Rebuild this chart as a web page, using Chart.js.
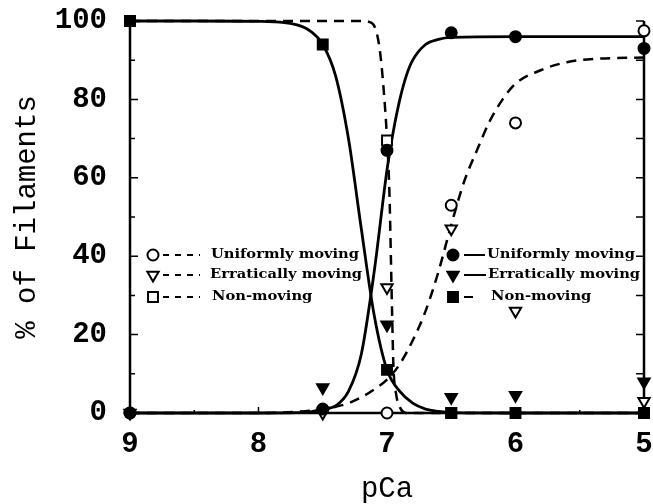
<!DOCTYPE html>
<html>
<head>
<meta charset="utf-8">
<script src="https://cdn.jsdelivr.net/npm/chart.js@4.4.1/dist/chart.umd.min.js"></script>
<style>
  html, body { margin: 0; padding: 0; background: #fff; }
</style>
</head>
<body>
<canvas id="pca-chart" width="653" height="504"></canvas>
<script>
// measured points, pCa from 9 down to 5
const pCa = [9, 7.5, 7.0, 6.5, 6.0, 5.0];
const uniformOpen   = [0, null, 0, 53, 74, 97.5];
const erraticOpen   = [0, 0, 32, 47, 26, 3];
const nonOpen       = [100, null, 69.5, 0, null, 0];
const uniformFilled = [0, 1, 67, 97, 96, 93];
const erraticFilled = [null, 6.5, 22.5, 4, 4.5, 8];
const nonFilled     = [100, 94, 11, 0, 0, 0];

// fitted curves (solid = filled symbols, dashed = open symbols)
const nonFitX  = [9, 8.5, 8, 7.8, 7.7, 7.6, 7.5, 7.4, 7.3, 7.2, 7.1, 7.0, 6.9, 6.8, 6.7, 6.6, 6.5, 6, 5.5, 5];
const nonFitY  = [100, 100, 99.9, 99.6, 99, 97.5, 94, 86, 70, 47, 25, 11, 5.5, 2.5, 1, 0.4, 0.1, 0, 0, 0];
const uniFitX  = [9, 8.5, 8, 7.7, 7.6, 7.5, 7.4, 7.3, 7.2, 7.1, 7.0, 6.95, 6.9, 6.85, 6.8, 6.7, 6.6, 6.5, 6, 5.5, 5];
const uniFitY  = [0, 0, 0, 0.1, 0.3, 1, 1.8, 5.5, 15, 36, 62, 72, 80, 86, 90, 94, 95.3, 95.8, 96, 96, 96];
const nonDashX = [9, 8, 7.5, 7.2, 7.12, 7.08, 7.05, 7.02, 7.0, 6.98, 6.97, 6.96, 6.95, 6.93, 6.9, 6.85, 6.5, 6, 5];
const nonDashY = [100, 100, 100, 100, 99.5, 97, 91, 80, 70, 55, 40, 25, 12, 5, 1.5, 0, 0, 0, 0];
const uniDashX = [9, 8.5, 8, 7.7, 7.5, 7.4, 7.3, 7.2, 7.1, 7.0, 6.9, 6.8, 6.7, 6.6, 6.5, 6.4, 6.3, 6.2, 6.1, 6.0, 5.8, 5.6, 5.4, 5.0];
const uniDashY = [0, 0, 0, 0.3, 1, 1.6, 2.5, 4, 6, 8.5, 12.5, 18.5, 26, 36, 48, 59, 67, 74.5, 80, 84, 87.5, 89.5, 90.3, 90.7];

const legendLabels = ['Uniformly moving', 'Erratically moving', 'Non-moving'];

const xy = (xs, ys) => xs.map((x, i) => ({ x: x, y: ys[i] })).filter(p => p.y !== null);

const monoFont = { family: '"Liberation Mono", monospace', size: 29 };

function curve(xs, ys, dashed) {
  return {
    data: xy(xs, ys),
    showLine: true,
    borderColor: '#000',
    borderWidth: dashed ? 2.5 : 2.8,
    borderDash: dashed ? [10, 7] : [],
    pointRadius: 0,
    cubicInterpolationMode: 'monotone',
    clip: false,
    order: 2
  };
}

// filled symbols sit on top of open ones (lower order is drawn last)
function marks(ys, style, filled) {
  return {
    data: xy(pCa, ys),
    showLine: false,
    pointStyle: style,
    pointRadius: style === 'circle' ? 5.5 : (style === 'rect' ? 7 : 6.5),
    pointRotation: style === 'triangle' ? 180 : 0,
    pointBackgroundColor: filled ? '#000' : '#fff',
    pointBorderColor: '#000',
    pointBorderWidth: 2,
    clip: false,
    order: filled ? 0 : 1
  };
}

// axis frame with inward ticks on left, bottom and right
const frame = {
  id: 'frame',
  beforeDatasetsDraw(chart) {
    const { ctx, chartArea: a, scales: { x, y } } = chart;
    ctx.save();
    ctx.strokeStyle = '#000';
    ctx.lineWidth = 2.5;
    ctx.beginPath();
    ctx.moveTo(a.left, a.top);
    ctx.lineTo(a.left, a.bottom);
    ctx.lineTo(a.right, a.bottom);
    ctx.lineTo(a.right, a.top);
    ctx.stroke();
    ctx.lineWidth = 1.5;
    ctx.beginPath();
    for (let v = 0; v <= 100; v += 10) {
      const py = y.getPixelForValue(v);
      ctx.moveTo(a.left, py); ctx.lineTo(a.left + (v % 20 ? 5 : 8), py);
      ctx.moveTo(a.right, py); ctx.lineTo(a.right - 8, py);
    }
    for (let v = 5; v <= 9; v += 0.5) {
      const px = x.getPixelForValue(v);
      ctx.moveTo(px, a.bottom); ctx.lineTo(px, a.bottom - (v % 1 ? 3 : 6));
    }
    ctx.stroke();
    ctx.restore();
  }
};

// two in-plot keys: open symbols with dashed lines, filled symbols with solid lines
const keys = {
  id: 'keys',
  afterDatasetsDraw(chart) {
    const ctx = chart.ctx;
    const styles = [['circle', 5.5, 0], ['triangle', 6.5, 180], ['rect', 7, 0]];
    const rows = [255, 275, 297];
    ctx.save();
    ctx.font = 'bold 12px "DejaVu Serif"';
    const sx = 148 / ctx.measureText(legendLabels[0]).width;
    ctx.textBaseline = 'middle';
    ctx.fillStyle = '#000';
    ctx.strokeStyle = '#000';
    const drawKey = (mx, lineFrom, lineTo, textX, filled) => {
      rows.forEach((ry, i) => {
        ctx.lineWidth = 2;
        ctx.fillStyle = filled ? '#000' : '#fff';
        Chart.helpers.drawPoint(ctx, {
          pointStyle: styles[i][0], radius: styles[i][1], rotation: styles[i][2], borderWidth: 2
        }, mx, ry);
        ctx.setLineDash(filled ? [] : [6, 6]);
        ctx.beginPath();
        ctx.moveTo(lineFrom, ry);
        ctx.lineTo(lineTo[i], ry);
        ctx.stroke();
        ctx.setLineDash([]);
        ctx.fillStyle = '#000';
        ctx.save();
        ctx.translate(textX[i], ry);
        ctx.scale(sx, 1);
        ctx.fillText(legendLabels[i], 0, 0);
        ctx.restore();
      });
    };
    drawKey(153, 163, [200, 200, 200], [211, 210, 212], false);
    drawKey(453, 464, [485, 486, 473], [487, 488, 491], true);
    ctx.restore();
  }
};

new Chart(document.getElementById('pca-chart'), {
  type: 'scatter',
  data: {
    datasets: [
      curve(nonFitX, nonFitY, false),
      curve(uniFitX, uniFitY, false),
      curve(nonDashX, nonDashY, true),
      curve(uniDashX, uniDashY, true),
      marks(uniformOpen, 'circle', false),
      marks(erraticOpen, 'triangle', false),
      marks(nonOpen, 'rect', false),
      marks(uniformFilled, 'circle', true),
      marks(erraticFilled, 'triangle', true),
      marks(nonFilled, 'rect', true)
    ]
  },
  options: {
    responsive: false,
    animation: false,
    events: [],
    layout: { padding: { top: 21, right: 6, left: 0, bottom: 0 } },
    plugins: { legend: { display: false }, tooltip: { enabled: false } },
    scales: {
      x: {
        type: 'linear',
        reverse: true,
        min: 5,
        max: 9,
        grid: { display: false, drawTicks: false },
        border: { display: false },
        ticks: { stepSize: 1, color: '#000', padding: 14, maxRotation: 0,
                 font: Object.assign({ weight: 'bold' }, monoFont) },
        title: { display: true, text: 'pCa', color: '#000', padding: 0,
                 font: Object.assign({ lineHeight: 1 }, monoFont) },
        afterFit(s) { s.height = 91; s.paddingLeft = 0; s.paddingRight = 0; }
      },
      y: {
        min: 0,
        max: 100,
        grid: { display: false, drawTicks: false },
        border: { display: false },
        ticks: { stepSize: 20, color: '#000', padding: 23,
                 font: Object.assign({ weight: 'bold' }, monoFont) },
        title: { display: true, text: '% of Filaments', color: '#000', padding: { top: 10 },
                 font: monoFont },
        afterFit(s) { s.width = 130; s.paddingTop = 0; s.paddingBottom = 0; }
      }
    }
  },
  plugins: [frame, keys]
});
</script>
</body>
</html>
